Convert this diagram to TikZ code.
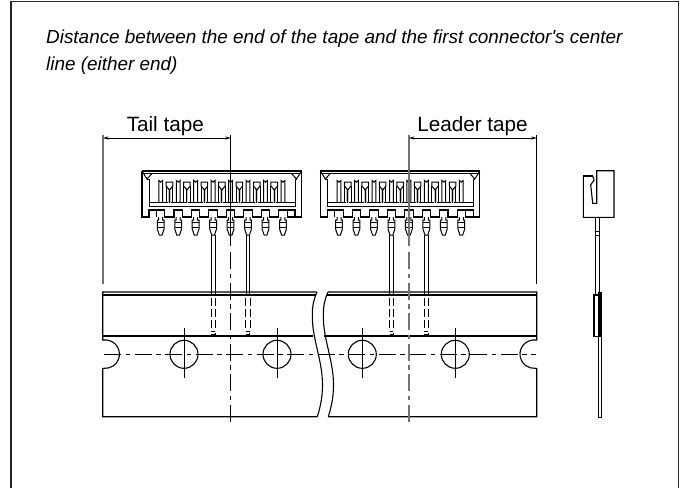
\documentclass[tikz,border=0pt]{standalone}
\usepackage{fontspec}
\setmainfont{Liberation Sans}
\newfontfamily\plainhead{Liberation Sans}
\usetikzlibrary{arrows.meta}
\tikzset{
  x=1pt,y=-1pt,
  ln/.style={line width=1.1pt,black,line join=miter},
  thin ln/.style={line width=1pt,black},
  grayln/.style={line width=1.3pt,black!55},
  chain/.style={line width=0.95pt,dash pattern=on 17pt off 4.5pt on 4.5pt off 4.5pt},
  dim/.style={line width=0.8pt,{Stealth[length=5.5pt,width=3.2pt]}-{Stealth[length=5.5pt,width=3.2pt]}},
  lab/.style={font=\fontsize{20.7}{24}\selectfont,inner sep=0pt,anchor=base},
  headtxt/.style={font=\plainhead\fontsize{18.9}{30}\selectfont\itshape,inner sep=0pt,anchor=base west},
  hid/.style={line width=1pt,dash pattern=on 8pt off 3pt},
  conn/.pic={
    % body outline with teeth
    \draw[ln] (142,171) -- (301.5,171) -- (301.5,217)
      \foreach \i in {7,...,0} {
        -- ({160.7+17.47*\i+4.2},217) -- ({160.7+17.47*\i+4.2},210) -- ({160.7+17.47*\i-4.2},210) -- ({160.7+17.47*\i-4.2},217)
      } ;
    \draw[ln] (142,171) -- (142,217) -- (149,217) -- (149,210) -- (156.5,210);
    \draw[ln] (142,173.5) -- (301.5,173.5);
    \draw[ln] (301.5,217) -- (295,217) -- (295,210) -- (287.2,210);
    % corner details
    \draw[thin ln] (142,171) -- (147,179) -- (152,173.5);
    \draw[thin ln] (301.5,171) -- (296.5,179) -- (291.5,173.5);
    \draw[thin ln] (147,179) -- (149,179) -- (149,206) -- (295,206) -- (295,179) -- (296.5,179);
    \draw[ln] (149,202.6) -- (295,202.6);
    % tall contacts
    \foreach \i in {0,...,7} {
      \pgfmathsetmacro{\px}{160.7+17.47*\i}
      \draw[thin ln] ({\px-1.9},202.6) -- ({\px-1.9},180.5) arc[start angle=180,end angle=360,x radius=1.9,y radius=-1.6] -- ({\px+1.9},202.6);
      % lower pin
      \draw[thin ln] ({\px-2},217) -- ({\px-2},220) -- ({\px-3.4},220) -- ({\px-3.4},229) -- ({\px-1.4},235) -- ({\px+1.4},235) -- ({\px+3.4},229) -- ({\px+3.4},220) -- ({\px+2},220) -- ({\px+2},217);
      \draw[thin ln] ({\px-3.4},222.5) -- ({\px+3.4},222.5) ({\px-3.4},227.5) -- ({\px+3.4},227.5);
    }
    % V shaped contacts
    \foreach \i in {0,...,6} {
      \pgfmathsetmacro{\qx}{169.45+17.47*\i}
      \fill[black!22] ({\qx-1.4},188) rectangle ({\qx+1.4},202.6);
      \draw[thin ln] ({\qx-3.3},182.2) -- ({\qx+3.3},182.2) -- ({\qx+3.3},186) -- (\qx,190) -- ({\qx-3.3},186) -- cycle;
      \draw[thin ln] ({\qx-3.3},186) -- ({\qx-3.3},202.6) ({\qx+3.3},186) -- ({\qx+3.3},202.6) (\qx,190) -- (\qx,202.6);
    }
    % long leads
    \foreach \lx in {213.3,248} {
      \draw[thin ln] ({\lx-1.9},235) -- ({\lx-1.9},296) ({\lx+1.9},235) -- ({\lx+1.9},296);
      \draw[hid] ({\lx-2.1},298) -- ({\lx-2.1},331) ({\lx+2.1},298) -- ({\lx+2.1},331);
      \draw[line width=0.7pt] ({\lx-2},331.5) -- ({\lx+1.6},331.5) ({\lx+1.6},333) -- ({\lx+1.6},334.5) -- ({\lx-2},334.5);
    }
  }
}
\begin{document}
\begin{tikzpicture}
\useasboundingbox (0,0) rectangle (680,488);
\fill[white] (0,0) rectangle (680,488);
\draw[line width=1.2pt,black!85] (11,488) -- (11,1.5) -- (678.8,1.5) -- (678.8,488);

\node[headtxt] (head) at (46,43.3) {Distance between the end of the tape and the first connector's center};
\node[headtxt] (head2) at (46,70.3) {line (either end)};

\pic at (0,0) {conn};
\pic at (178.3,0) {conn};

% tape left piece
\draw[ln] (317,292) -- (102.7,292) -- (102.7,340) -- (104,340) arc[start angle=-95,end angle=95,radius=14.2,y=-1pt] -- (102.7,368.4) -- (102.7,416.7) -- (317.3,416.7);
\draw[ln] (102.7,295) -- (315.5,295);
\draw[ln] (102.7,336) -- (313,336);
\draw[ln] (317,292) .. controls (313.5,300) and (312.3,306) .. (312.3,316) .. controls (312.3,340) and (322.5,360) .. (322.5,385) .. controls (322.5,398) and (320,408) .. (317.3,416.7);
% tape right piece
\draw[ln] (328,292) -- (536.7,292) -- (536.7,340) -- (535.4,340) arc[start angle=-85,end angle=-275,radius=14.2,y=-1pt] -- (536.7,368.4) -- (536.7,416.7) -- (328.3,416.7);
\draw[ln] (326.5,295) -- (536.7,295);
\draw[ln] (324,336) -- (536.7,336);
\draw[ln] (328,292) .. controls (324.5,300) and (323.3,306) .. (323.3,316) .. controls (323.3,340) and (333.5,360) .. (333.5,385) .. controls (333.5,398) and (331,408) .. (328.3,416.7);
% holes
\foreach \hx in {184,277,362.3,455.3} {
  \draw[ln] (\hx,354.3) circle[radius=14];
  \draw[thin ln] (\hx,328) -- (\hx,378);
}
% centre lines
\draw[chain] (104,354.3) -- (536,354.3);
\draw[line width=0.9pt] (230.7,135) -- (230.7,246);
\draw[chain] (230.7,252) -- (230.7,425);
\draw[grayln] (409,135) -- (409,246);
\draw[chain,line width=1.3pt,black!55] (409,252) -- (409,425);
% dimension lines
\coordinate (ltop) at (103,135);
\coordinate (lbot) at (103,284);
\coordinate (rtop) at (536.7,135);
\coordinate (rbot) at (536.7,284);
\coordinate (cl) at (230.7,138);
\coordinate (cr) at (409,138);
\draw[grayln] (ltop) -- (lbot);
\draw[ln] (rtop) -- (rbot);
\draw[dim] (ltop |- cl) -- (cl);
\draw[dim] (cr) -- (rtop |- cr);
\node[lab] (tail) at (165.3,131.7) {Tail tape};
\node[lab] (lead) at (472.5,131.7) {Leader tape};

% side view
\draw[ln,line join=miter] (583.3,176) -- (583.3,217.3) -- (614,217.3) -- (614,170.7) -- (596.7,170.7) -- (596.7,203.3) -- (592.7,203.3) -- (590.7,185) -- (594,180) -- (592.7,176);
\draw[line width=2.2pt] (583,176) -- (593,176);
\draw[thin ln] (595.5,217.3) -- (595.5,295) (599.7,217.3) -- (599.7,295);
\draw[thin ln] (595.5,231) rectangle (599.7,235);
\draw[ln] (598.3,295) -- (594,295) -- (594,336.5) -- (598.3,336.5);
\fill[black] (598.3,291.7) rectangle (601.7,336.7);
\draw[thin ln] (598.9,336.7) -- (598.9,417.3) -- (601.7,417.3) -- (601.7,336.7);
\end{tikzpicture}
\end{document}
